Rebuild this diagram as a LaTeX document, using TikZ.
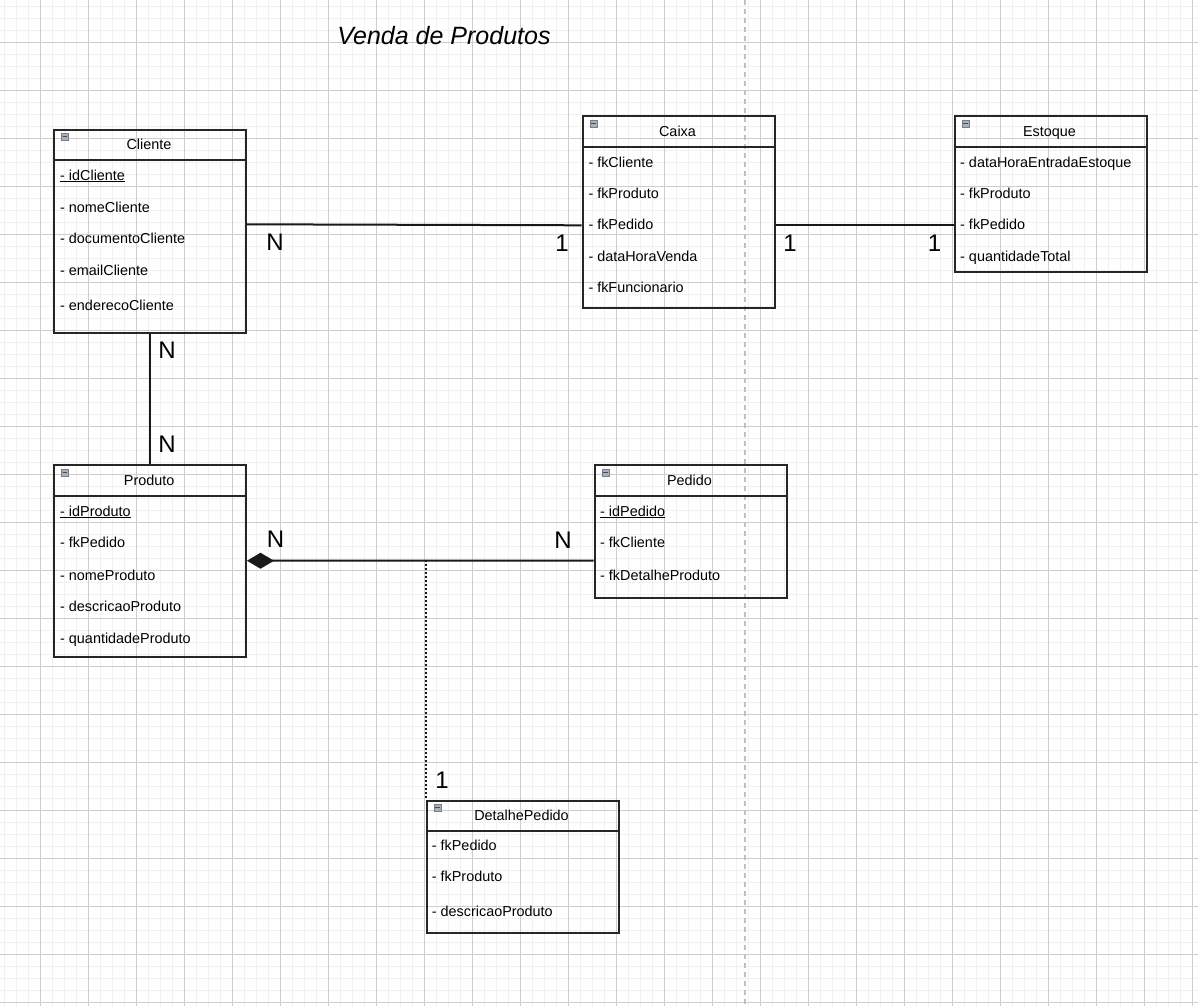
\documentclass[tikz,border=0pt]{standalone}
\usepackage{fontspec}
\setmainfont{Liberation Sans}
\usetikzlibrary{arrows.meta,calc}
\definecolor{gridminor}{RGB}{241,241,241}
\definecolor{gridmajor}{RGB}{206,206,206}
\definecolor{guide}{RGB}{192,192,192}
\definecolor{iconfill}{RGB}{170,176,186}
\definecolor{iconline}{RGB}{120,126,136}
\begin{document}
\begin{tikzpicture}[x=1pt,y=-1pt,
  entity/.style={draw=black!85, line width=2pt, minimum width=192pt, inner sep=0pt, anchor=north west},
  sep/.style={draw=black!85, line width=2pt},
  hdr/.style={anchor=base, font=\fontsize{14.4}{16}\selectfont, inner sep=0pt},
  attr/.style={anchor=base west, font=\fontsize{14.4}{16}\selectfont, inner sep=0pt},
  conn/.style={line width=2pt, black!90},
  card/.style={font=\fontsize{24}{28}\selectfont, inner sep=0pt},
  minor/.style={gridminor, line width=1.5pt},
  major/.style={gridmajor, line width=1pt},
  icon/.style={draw=iconline, fill=iconfill, line width=0.6pt, minimum size=7pt, inner sep=0pt, anchor=north west},
]
\useasboundingbox (0,0) rectangle (1198,1006);
\fill[white] (0,0) rectangle (1198,1006);
% grid
\foreach \x in {4.5,16.5,...,1198} \draw[minor] (\x,0) -- (\x,1006);
\foreach \y in {6.3,18.3,...,1006} \draw[minor] (0,\y) -- (1198,\y);
\foreach \x in {40.5,88.5,...,1198} \draw[major] (\x,0) -- (\x,1006);
\foreach \y in {42.3,90.3,...,1006} \draw[major] (0,\y) -- (1198,\y);
% guide
\coordinate (gtop) at (745,0);
\coordinate (gbot) at (745,1006);
\draw[guide, line width=2pt, dash pattern=on 5pt off 4pt] (gtop) -- (gbot);

% title
\node[anchor=base, font=\itshape\fontsize{25}{29}\selectfont, inner sep=0pt] (title) at (444,45) {Venda de Produtos};

% entities
\node[entity, minimum height=203pt] (cliente) at (53,128.5) {};
\node[entity, minimum height=191pt] (caixa) at (581.5,115.5) {};
\node[entity, minimum height=155pt] (estoque) at (953.5,115.5) {};
\node[entity, minimum height=191.5pt] (produto) at (53,464) {};
\node[entity, minimum height=133pt] (pedido) at (593.5,464) {};
\node[entity, minimum height=132pt] (detalhe) at (425.5,799.5) {};

\foreach \e/\h in {cliente/31,caixa/31,estoque/31,produto/31.5,pedido/31.5,detalhe/31.5}{
  \draw[sep] ([yshift=-\h pt]\e.north west) -- ([yshift=-\h pt]\e.north east);
  \node[icon] (\e icon) at ($(\e.north west)+(8,4.5)$) {};
  \draw[iconline!60!black, line width=1pt] ($(\e icon.west)+(1.5,0)$) -- ($(\e icon.east)+(-1.5,0)$);
}

% headers
\node[hdr] (clienteH) at (149,149.3) {Cliente};
\node[hdr] (caixaH) at (677.5,136) {Caixa};
\node[hdr] (estoqueH) at (1049.5,136) {Estoque};
\node[hdr] (produtoH) at (149.2,485) {Produto};
\node[hdr] (pedidoH) at (689.5,485) {Pedido};
\node[hdr] (detalheH) at (521.5,820) {DetalhePedido};

% attributes
\node[attr] (c1) at (60,180) {\underline{- idCliente}};
\node[attr] (c2) at (60,212) {- nomeCliente};
\node[attr] (c3) at (60,243.3) {- documentoCliente};
\node[attr] (c4) at (60,275) {- emailCliente};
\node[attr] (c5) at (60,310) {- enderecoCliente};

\node[attr] (k1) at (588.3,167.3) {- fkCliente};
\node[attr] (k2) at (588.3,198.3) {- fkProduto};
\node[attr] (k3) at (588.3,229.5) {- fkPedido};
\node[attr] (k4) at (588.3,261) {- dataHoraVenda};
\node[attr] (k5) at (588.3,292) {- fkFuncionario};

\node[attr] (e1) at (960,167.3) {- dataHoraEntradaEstoque};
\node[attr] (e2) at (960,198.3) {- fkProduto};
\node[attr] (e3) at (960,229.5) {- fkPedido};
\node[attr] (e4) at (960,261) {- quantidadeTotal};

\node[attr] (p1) at (60,516) {\underline{- idProduto}};
\node[attr] (p2) at (60,547.7) {- fkPedido};
\node[attr] (p3) at (60,580) {- nomeProduto};
\node[attr] (p4) at (60,611.7) {- descricaoProduto};
\node[attr] (p5) at (60,643.3) {- quantidadeProduto};

\node[attr] (d1) at (600,516) {\underline{- idPedido}};
\node[attr] (d2) at (600,547.7) {- fkCliente};
\node[attr] (d3) at (600,580) {- fkDetalheProduto};

\node[attr] (t1) at (431.7,850.7) {- fkPedido};
\node[attr] (t2) at (431.7,881.7) {- fkProduto};
\node[attr] (t3) at (431.7,916) {- descricaoProduto};

% connectors
\draw[conn] ([yshift=6.7pt]cliente.east) -- ([yshift=-13.3pt]caixa.west);
\draw[conn] ([yshift=-13pt]caixa.east) -- ([yshift=-31pt]estoque.west);
\draw[conn] (cliente.south) -- (produto.north);
\draw[conn, -{Diamond[length=27pt,width=16pt]}] ([yshift=-29pt]pedido.west) -- (produto.east);
\coordinate (mid) at (426,559.6);
\draw[line width=2pt, black!90, dash pattern=on 2pt off 2pt] (mid) -- (mid |- detalhe.north);

% cardinalities
\node[card] (n1) at (275,242.5) {N};
\node[card] (n2) at (562,243) {1};
\node[card] (n3) at (790,243) {1};
\node[card] (n4) at (934.5,243) {1};
\node[card] (n5) at (167,350) {N};
\node[card] (n6) at (167,444) {N};
\node[card] (n7) at (275.5,539) {N};
\node[card] (n8) at (563,540) {N};
\node[card] (n9) at (442,780) {1};
\end{tikzpicture}
\end{document}
